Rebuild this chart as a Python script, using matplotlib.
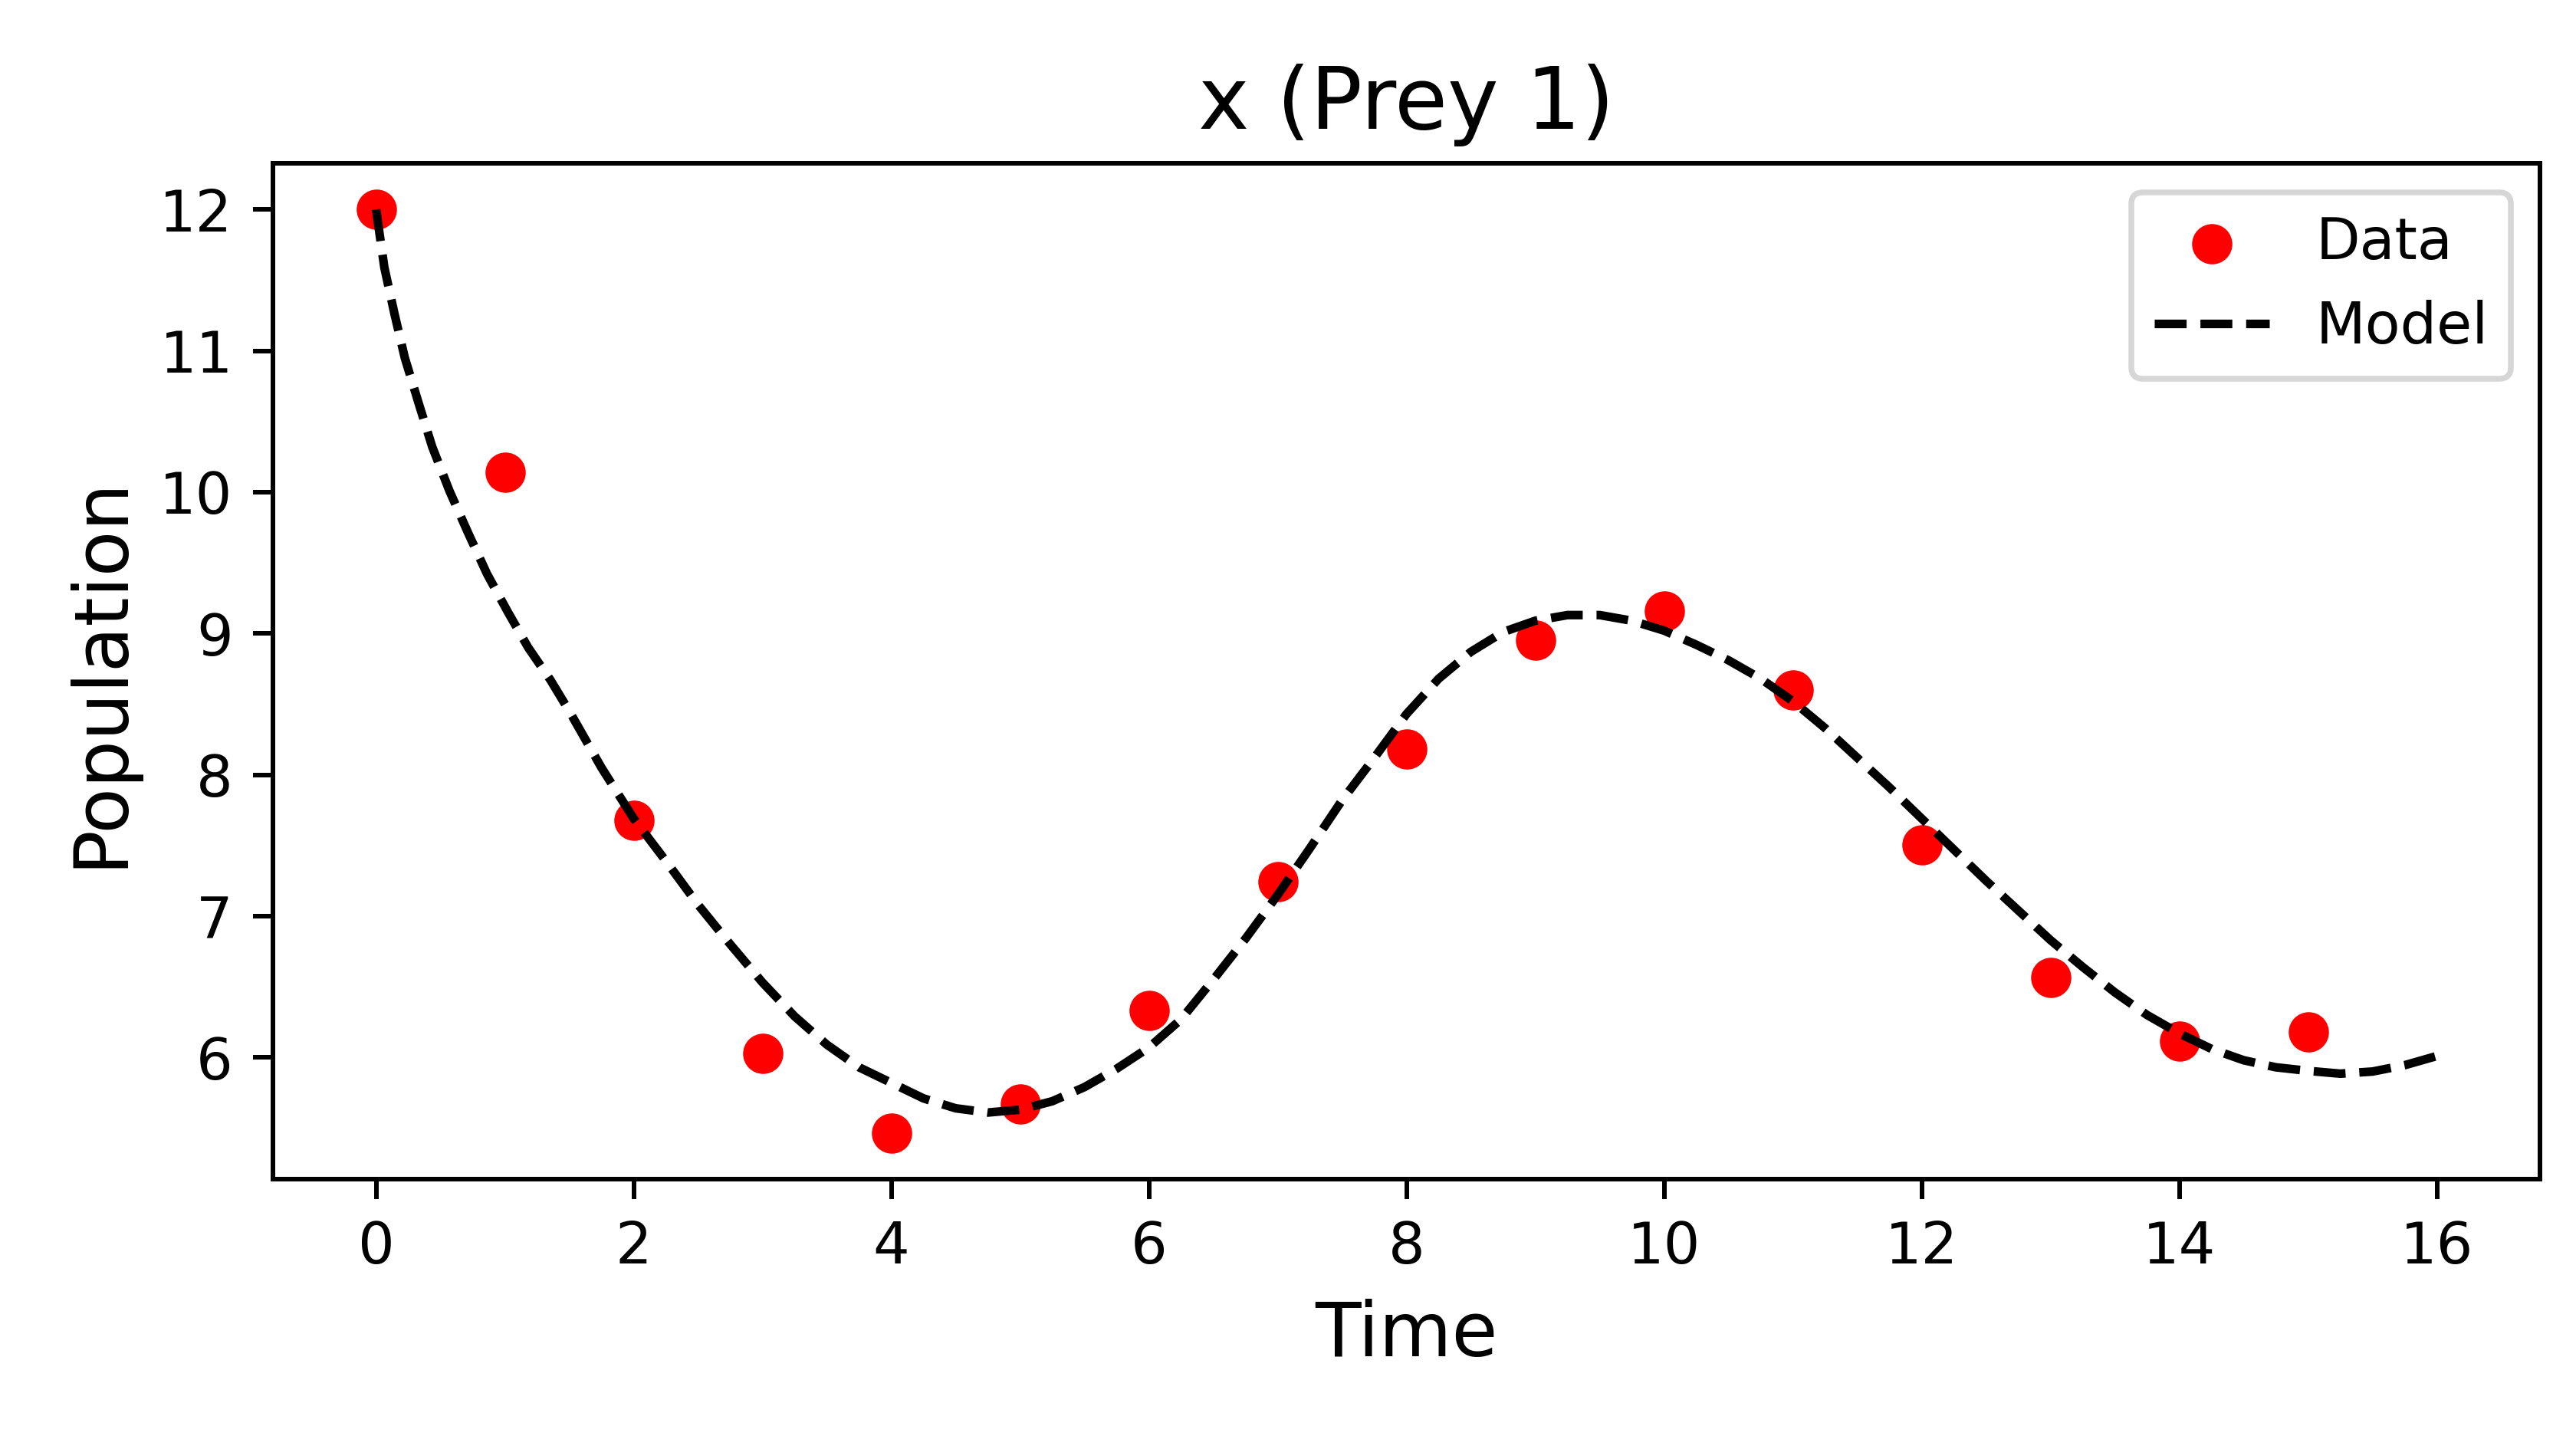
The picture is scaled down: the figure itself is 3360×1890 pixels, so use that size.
import matplotlib
matplotlib.use("Agg")
import matplotlib.pyplot as plt
import numpy as np

# Observed data (Prey 1)
t_data = [0, 1, 2, 3, 4, 5, 6, 7, 8, 9, 10, 11, 12, 13, 14, 15]
x_data = [12.00, 10.14, 7.68, 6.03, 5.465, 5.67, 6.33, 7.245, 8.18, 8.952,
          9.16, 8.60, 7.505, 6.565, 6.115, 6.18]

# Model curve
t_model = [0.0, 0.064, 0.143, 0.223, 0.33, 0.436, 0.569, 0.715, 0.862, 1.021,
           1.181, 1.354, 1.5, 1.75, 2.0, 2.25, 2.5, 2.75,
           3.0, 3.25, 3.5, 3.75, 4.0, 4.25, 4.5, 4.75, 5.0, 5.25, 5.5, 5.75,
           6.0, 6.25, 6.5, 6.75, 7.0, 7.25, 7.5, 7.75, 8.0, 8.25, 8.5, 8.75,
           9.0, 9.25, 9.5, 9.75, 10.0, 10.25, 10.5, 10.75, 11.0, 11.25, 11.5,
           11.75, 12.0, 12.25, 12.5, 12.75, 13.0, 13.25, 13.5, 13.75, 14.0,
           14.25, 14.5, 14.75, 15.0, 15.25, 15.5, 15.75, 16.0]
x_model = [12.00, 11.59, 11.26, 10.95, 10.63, 10.32, 10.01, 9.71, 9.42, 9.155,
           8.90, 8.67, 8.45, 8.05, 7.69, 7.39,
           7.08, 6.80, 6.53, 6.29, 6.09, 5.93, 5.82, 5.71, 5.64, 5.61, 5.63,
           5.69, 5.79, 5.92, 6.07, 6.27, 6.55, 6.84, 7.15, 7.48, 7.82, 8.12,
           8.43, 8.68, 8.87, 9.01, 9.09, 9.13, 9.13, 9.09, 9.02, 8.92, 8.81,
           8.68, 8.52, 8.33, 8.12, 7.91, 7.69, 7.47, 7.25, 7.04, 6.83, 6.64,
           6.46, 6.30, 6.17, 6.06, 5.98, 5.93, 5.905, 5.885, 5.90, 5.945, 6.01]

DPI = 540
fig, ax = plt.subplots(figsize=(3360 / DPI, 1890 / DPI), dpi=DPI)
ax.scatter(t_data, x_data, color='red', label='Data')
ax.plot(t_model, x_model, 'k--', label='Model')
ax.set_title('x (Prey 1)', fontsize=15)
ax.set_xlabel('Time', fontsize=13)
ax.set_ylabel('Population', fontsize=13)
ax.tick_params(labelsize=10)
ax.legend(loc='upper right', fontsize=10)
fig.subplots_adjust(left=0.106, right=0.986, bottom=0.1862, top=0.8873)
fig.savefig('out.png', dpi=DPI)
